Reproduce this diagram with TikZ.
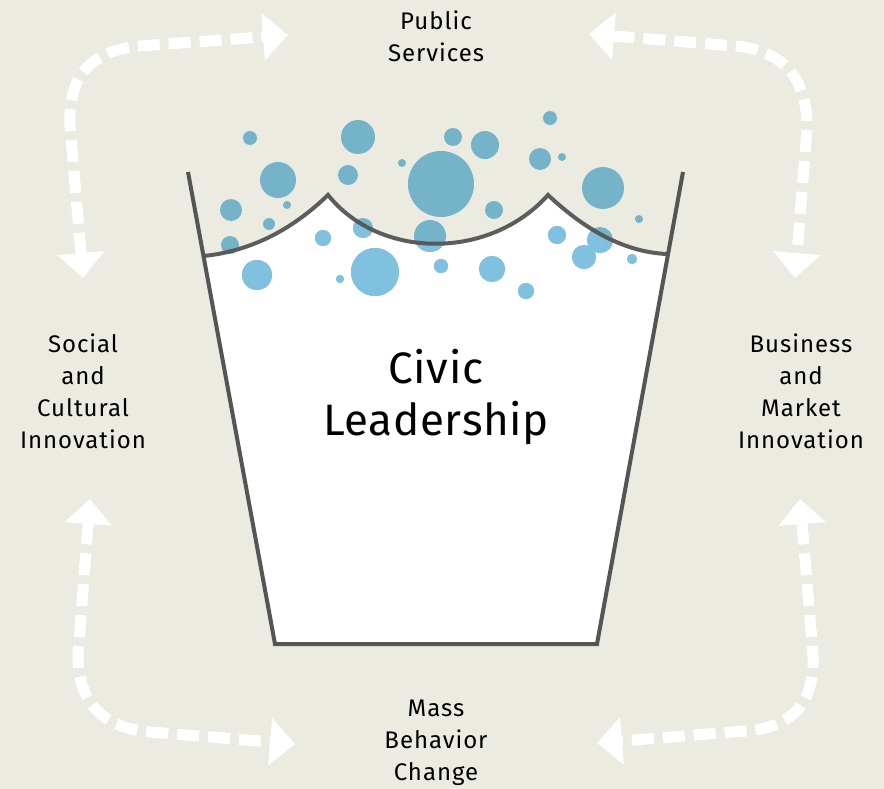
\documentclass[tikz,border=0pt]{standalone}
\usepackage{fontspec}
\setmainfont{Fira Sans}[LetterSpace=4.0]
\usepackage{tikz}
\usetikzlibrary{arrows.meta, positioning}
\definecolor{paper}{RGB}{236,235,225}
\definecolor{cupgray}{RGB}{85,85,85}
\definecolor{bubbleteal}{RGB}{117,179,200}
\definecolor{bubbleblue}{RGB}{129,193,224}

% bubbles, x/y/radius in px
\newcommand{\bubbleset}{%
  \foreach \bx/\by/\br in {250/138/7, 358/137/17, 453/137/9, 485/145/14, 550/118/7,
      278/180/18, 402/163/4, 441/184/33, 540/159/11, 562/157/4, 348/175/10,
      603/188/21, 231/210/11, 287/205/4, 269/224/6, 494/210/9, 639/219/4,
      230/245/9, 323/238/8, 363/228/10, 430/236/16, 557/235/9, 600/240/13,
      584/257/12, 632/259/5, 257/275/15, 375/272/24, 340/279/4, 441/266/7,
      492/269/13, 526/291/8}
    {\fill (\bx,\by) circle (\br pt);}%
}

\begin{document}
\begin{tikzpicture}[x=1pt, y=-1pt,
  flow/.style={white, line width=11pt, dash pattern=on 22pt off 9pt,
    {Triangle[length=25pt, width=46pt]}-{Triangle[length=25pt, width=46pt]}},
  label/.style={align=center, font=\fontsize{24}{32}\selectfont, inner sep=0pt},
  cupline/.style={cupgray, line width=4pt, line join=miter}]
\useasboundingbox (0,0) rectangle (884,789);
\fill[paper] (0,0) rectangle (884,789);

% water in the cup
\fill[white] (204,256) .. controls (260,250) and (300,222) .. (328,195)
  .. controls (380,260) and (490,260) .. (548,195)
  .. controls (580,225) and (620,252) .. (667,254)
  -- (597,644) -- (275,644) -- cycle;

% bubbles: teal above the water, blue inside it
\begin{scope}[bubbleteal]
  \bubbleset
\end{scope}
\begin{scope}[bubbleblue]
  \clip (204,256) .. controls (260,250) and (300,222) .. (328,195)
    .. controls (380,260) and (490,260) .. (548,195)
    .. controls (580,225) and (620,252) .. (667,254)
    -- (597,644) -- (275,644) -- cycle;
  \bubbleset
\end{scope}

% water surface and cup
\draw[cupline, opacity=0.95] (204,256) .. controls (260,250) and (300,222) .. (328,195)
  .. controls (380,260) and (490,260) .. (548,195)
  .. controls (580,225) and (620,252) .. (667,254);
\draw[cupline] (188,172) -- (275,644) -- (597,644) -- (683,172);

% labels
\node[label, font=\fontsize{44}{52}\selectfont\addfontfeatures{LetterSpace=1.5}] (civic) at (436,397) {Civic\\Leadership};
\node[label] (public) at (436,36) {Public\\Services};
\node[label] (social) at (83,391) {Social\\and\\Cultural\\Innovation};
\node[label] (business) at (801,391) {Business\\and\\Market\\Innovation};
\node[label] (mass) at (436,743) {Mass\\Behavior\\Change};

% arrow ends
\coordinate (tlA) at (83,278);
\coordinate (tlB) at (288,35);
\coordinate (trA) at (589,34);
\coordinate (trB) at (795,278);
\coordinate (blA) at (90,499);
\coordinate (blB) at (295,744);
\coordinate (brA) at (800,499);
\coordinate (brB) at (597,743);

% arrows
\draw[flow] (tlA) -- (70,125) .. controls (68,72) and (95,50) .. (140,46) -- (tlB);
\draw[flow] (trA) -- (735,46) .. controls (780,50) and (808,75) .. (807,130) -- (trB);
\draw[flow] (blA) -- (78,655) .. controls (78,705) and (105,728) .. (150,732) -- (blB);
\draw[flow] (brA) -- (813,655) .. controls (815,705) and (790,728) .. (745,731) -- (brB);
\end{tikzpicture}
\end{document}
